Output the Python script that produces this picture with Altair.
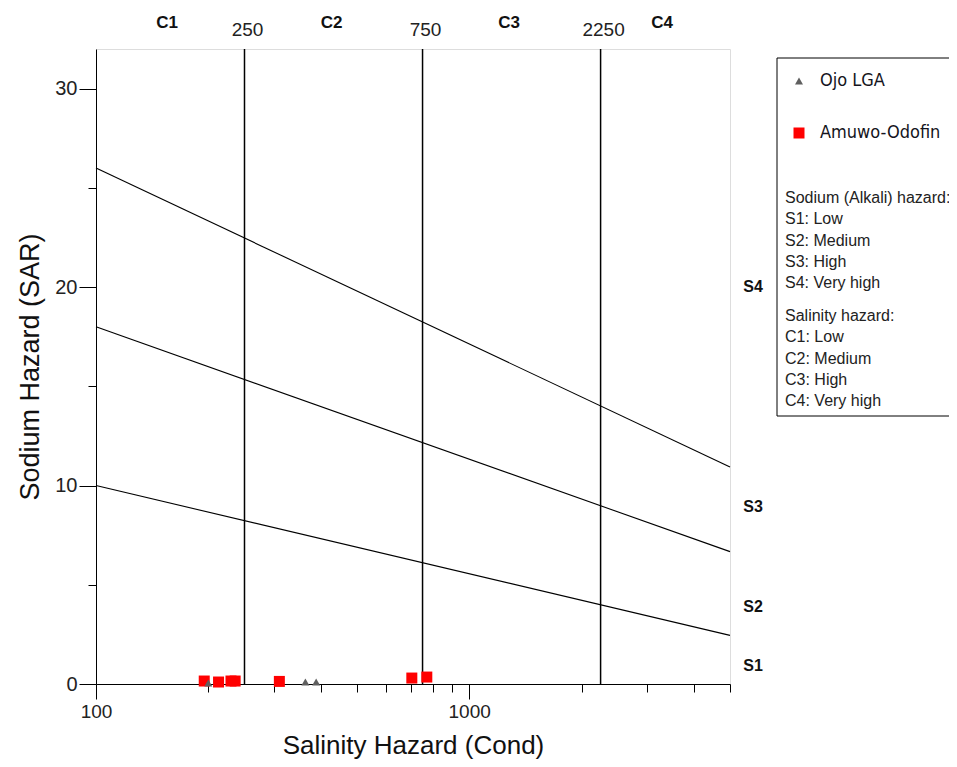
import altair as alt
import pandas as pd

# ---------------- data ----------------
ojo_cond = [200, 364, 389]
ojo_sar = [0.05, 0.1, 0.1]
amuwo_cond = [195, 213, 230, 236, 310, 702, 770]
amuwo_sar = [0.15, 0.1, 0.15, 0.15, 0.13, 0.3, 0.35]

series_names = ["Ojo LGA", "Amuwo-Odofin"]
series_colors = ["#5f5f5f", "#ff0000"]
series_shapes = ["triangle-up", "square"]

boundary_cond = [250, 750, 2250]
boundary_labels = ["250", "750", "2250"]
class_cond = [155, 428, 1280, 3290]
class_labels = ["C1", "C2", "C3", "C4"]

line_cond_ends = [100, 5000]
sodium_line_start = [10, 18, 26]        # SAR at 100
sodium_line_end = [2.45, 6.67, 10.94]   # SAR at 5000
sodium_labels = ["S1", "S2", "S3", "S4"]
sodium_label_sar = [0.9, 3.9, 8.9, 20.0]

x_ticks = [100, 200, 300, 400, 500, 600, 700, 800, 900, 1000, 2000, 3000, 4000, 5000]
y_ticks = [0, 5, 10, 15, 20, 25, 30]

sodium_text = ["Sodium (Alkali) hazard:", "S1: Low", "S2: Medium", "S3: High", "S4: Very high"]
salinity_text = ["Salinity hazard:", "C1: Low", "C2: Medium", "C3: High", "C4: Very high"]

# ---------------- tables ----------------
pts = pd.DataFrame(
    {"cond": ojo_cond + amuwo_cond,
     "sar": ojo_sar + amuwo_sar,
     "series": ["Ojo LGA"] * len(ojo_cond) + ["Amuwo-Odofin"] * len(amuwo_cond)}
)
lines = pd.DataFrame(
    [{"cond": line_cond_ends[0], "sar": s, "line": i} for i, s in enumerate(sodium_line_start)]
    + [{"cond": line_cond_ends[1], "sar": e, "line": i} for i, e in enumerate(sodium_line_end)]
)
bounds = pd.DataFrame({"cond": boundary_cond, "label": boundary_labels, "y0": [0] * 3, "y1": [32] * 3})
classes = pd.DataFrame({"cond": class_cond, "label": class_labels})
slabels = pd.DataFrame({"sar": sodium_label_sar, "label": sodium_labels})

FONT = "Liberation Sans"
NARROW = "DejaVu Sans Condensed, Liberation Sans Narrow, Liberation Sans"
W, H = 634, 635

xs = alt.Scale(type="log", domain=[100, 5000], nice=False)
ys = alt.Scale(domain=[0, 32], nice=False, zero=False)

xaxis = alt.Axis(
    values=x_ticks,
    labelExpr="(datum.value == 100 || datum.value == 1000) ? '' + datum.value : ''",
    tickSize={"condition": {"test": "datum.value == 100 || datum.value == 1000", "value": 15}, "value": 8},
    labelFlush=False, labelOverlap=False, grid=False,
    domainColor="black", tickColor="black", domainWidth=1, tickWidth=1,
    labelFont=FONT, labelFontSize=19, labelColor="#222", labelPadding=3,
    title="Salinity Hazard (Cond)", titleFont=FONT, titleFontSize=26,
    titleFontWeight="normal", titleColor="#111", titlePadding=11,
)
yaxis = alt.Axis(
    values=y_ticks,
    labelExpr="datum.value % 10 === 0 ? datum.label : ''",
    tickSize={"condition": {"test": "datum.value % 10 === 0", "value": 17}, "value": 8},
    labelOverlap=False, grid=False,
    domainColor="black", tickColor="black", domainWidth=1, tickWidth=1,
    labelFont=FONT, labelFontSize=20, labelColor="#222", labelPadding=2,
    title="Sodium Hazard (SAR)", titleFont=FONT, titleFontSize=27,
    titleFontWeight="normal", titleColor="#111", titlePadding=10,
)

def X(field="cond"):
    return alt.X(f"{field}:Q", scale=xs, axis=xaxis)

def Y(field="sar"):
    return alt.Y(f"{field}:Q", scale=ys, axis=yaxis)

diag = alt.Chart(lines).mark_line(color="black", strokeWidth=1.1).encode(
    x=X(), y=Y(), detail="line:N"
)
vlines = alt.Chart(bounds).mark_rule(color="black", strokeWidth=1.5).encode(
    x=X(), y=Y("y0"), y2="y1:Q"
)
bound_txt = alt.Chart(bounds).mark_text(
    font=FONT, fontSize=19, color="#222", dx=3, baseline="middle"
).encode(x=X(), y=alt.value(-19), text="label:N")
class_txt = alt.Chart(classes).mark_text(
    font=FONT, fontSize=17, fontWeight="bold", color="#111", baseline="middle"
).encode(x=X(), y=alt.value(-26), text="label:N")
s_txt = alt.Chart(slabels).mark_text(
    font=FONT, fontSize=16, fontWeight="bold", color="#111", baseline="middle"
).encode(x=alt.value(657), y=Y(), text="label:N")

legend_box = alt.Chart(pd.DataFrame({"k": [0]})).mark_rect(
    fill="white", stroke="black", strokeWidth=1
).encode(x=alt.value(681), x2=alt.value(900), y=alt.value(9), y2=alt.value(367))

leg = alt.Legend(
    orient="none", legendX=694, legendY=23, title=None,
    labelFont=NARROW, labelFontSize=18, labelColor="#141420",
    labelLimit=400, symbolSize=60, rowPadding=34, labelOffset=12,
    padding=0, symbolStrokeWidth=0,
)
points = alt.Chart(pts).mark_point(filled=True, opacity=1).encode(
    x=X(), y=Y(),
    color=alt.Color("series:N", scale=alt.Scale(domain=series_names, range=series_colors), legend=leg),
    shape=alt.Shape("series:N", scale=alt.Scale(domain=series_names, range=series_shapes), legend=leg),
    size=alt.Size("series:N", scale=alt.Scale(domain=series_names, range=[64, 121]), legend=None),
    order=alt.Order("series:N", sort="ascending"),
)

txt1 = alt.Chart(pd.DataFrame({"t": ["\n".join(sodium_text)]})).mark_text(
    align="left", baseline="alphabetic", lineBreak="\n", lineHeight=21.3,
    font=FONT, fontSize=16, color="#222"
).encode(x=alt.value(689), y=alt.value(154), text="t:N")
txt2 = alt.Chart(pd.DataFrame({"t": ["\n".join(salinity_text)]})).mark_text(
    align="left", baseline="alphabetic", lineBreak="\n", lineHeight=21.3,
    font=FONT, fontSize=16, color="#222"
).encode(x=alt.value(689), y=alt.value(272), text="t:N")

chart = alt.layer(
    diag, vlines, bound_txt, class_txt, s_txt, legend_box, txt1, txt2, points
).properties(
    width=W, height=H,
    padding={"left": 88, "top": 41, "right": 219, "bottom": 75},
    autosize=alt.AutoSizeParams(type="none"),
).configure_view(stroke="black", strokeWidth=1.2).configure(background="white")

chart.save("out.html", embed_options={"renderer": "svg", "actions": False})
